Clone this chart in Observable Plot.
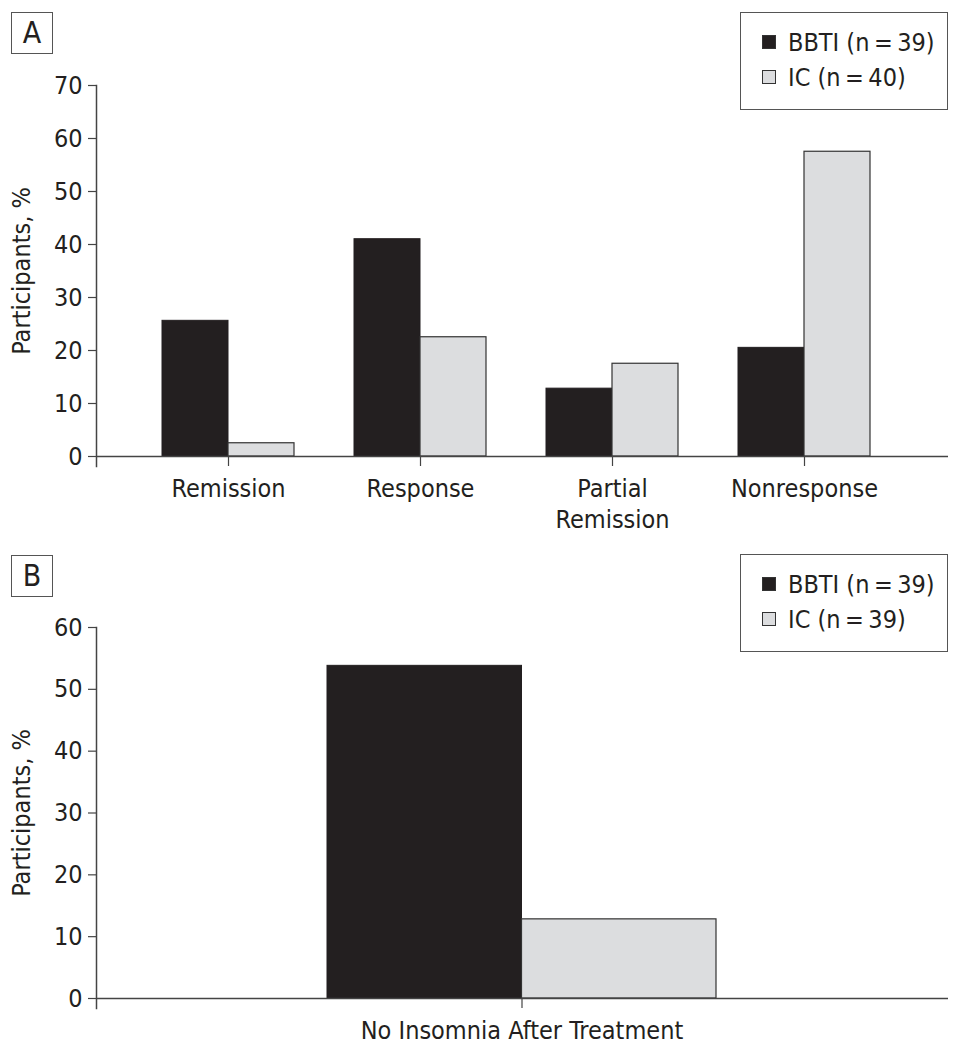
<!DOCTYPE html>
<html><head><meta charset="utf-8">
<script src="https://cdn.jsdelivr.net/npm/d3@7"></script>
<script src="https://cdn.jsdelivr.net/npm/@observablehq/plot@0.6"></script>
<style>
body{margin:0;background:#fff}
#wrap{position:relative;width:960px;height:1050px;font-family:"Liberation Sans Narrow","DejaVu Sans Condensed","Roboto Condensed","Liberation Sans",sans-serif;color:#231f20;overflow:hidden}
.panel{position:absolute;left:0;width:960px}
.letter{position:absolute;left:11px;width:42px;height:42px;border:1.5px solid #555;box-sizing:border-box;font-size:30px;text-align:center;line-height:40px}
.legend{position:absolute;left:740px;width:208px;height:98px;border:1.5px solid #555;box-sizing:border-box;font-size:25px}
.item{position:absolute;left:21px;height:30px;line-height:30px;white-space:nowrap}
.sw{display:inline-block;width:14px;height:14px;border:1px solid #333;box-sizing:border-box;margin-right:12px;vertical-align:middle;position:relative;top:-2px}
</style></head>
<body><div id="wrap"></div>
<script>
// ---- data ----
const seriesNamesA = ["BBTI (n\u2009=\u200939)", "IC (n\u2009=\u200940)"];
const seriesNamesB = ["BBTI (n\u2009=\u200939)", "IC (n\u2009=\u200939)"];
const seriesColors = ["#231f20", "#dcdddf"];
const categoriesA = ["Remission", "Response", "Partial Remission", "Nonresponse"];
const tickLabelsA = ["Remission", "Response", "Partial\nRemission", "Nonresponse"];
const bbtiA = [25.6, 41.0, 12.8, 20.5];
const icA = [2.5, 22.5, 17.5, 57.5];
const yTicksA = [0, 10, 20, 30, 40, 50, 60, 70];

const categoriesB = ["No Insomnia After Treatment"];
const tickLabelsB = ["No Insomnia After Treatment"];
const bbtiB = [53.8];
const icB = [12.8];
const yTicksB = [0, 10, 20, 30, 40, 50, 60];

const yLabel = "Participants, %";
const FONT = '"Liberation Sans Narrow","DejaVu Sans Condensed","Roboto Condensed","Liberation Sans",sans-serif';
const AX = "#444";

function makePanel({cats, labels, bbti, ic, ticks, ymax, height, mt, mb, xrange, padIn, half}) {
  const rows = cats.map((c, i) => ({cat: c, bbti: bbti[i], ic: ic[i]}));
  const lab = new Map(cats.map((c, i) => [c, labels[i]]));
  return Plot.plot({
    width: 960, height, marginTop: mt, marginBottom: mb, marginLeft: 96, marginRight: 12,
    style: {fontFamily: FONT, fontSize: "25px", color: "#231f20", background: "white"},
    x: {domain: cats, range: xrange, paddingInner: padIn, paddingOuter: 0, label: null},
    y: {domain: [0, ymax], label: null},
    marks: [
      Plot.barY(rows, {x: "cat", y: "bbti", fill: seriesColors[0], stroke: "#231f20", strokeWidth: 1, insetRight: half}),
      Plot.barY(rows, {x: "cat", y: "ic", fill: seriesColors[1], stroke: "#333", strokeWidth: 1.2, insetLeft: half}),
      Plot.ruleY([0], {stroke: AX, strokeWidth: 1.5}),
      Plot.frame({anchor: "left", stroke: AX, strokeWidth: 1.5, insetBottom: -10}),
      Plot.axisY({ticks, tickSize: 8, tickPadding: 6, stroke: AX, strokeWidth: 1.2, label: yLabel, labelAnchor: "center", labelArrow: "none", labelOffset: 84, fontSize: 25}),
      Plot.axisX({tickSize: 10, tickPadding: 8, stroke: AX, strokeWidth: 1.2, tickFormat: d => lab.get(d), lineHeight: 1.25, label: null, fontSize: 25})
    ]
  });
}

const wrap = document.getElementById("wrap");

function addPanel(top, svg, letter, letterTop, legendTop, names) {
  const p = document.createElement("div");
  p.className = "panel"; p.style.top = top + "px";
  p.appendChild(svg);
  wrap.appendChild(p);
  const L = document.createElement("div");
  L.className = "letter"; L.style.top = letterTop + "px"; L.textContent = letter;
  wrap.appendChild(L);
  const g = document.createElement("div");
  g.className = "legend"; g.style.top = legendTop + "px";
  names.forEach((n, i) => {
    const it = document.createElement("div");
    it.className = "item"; it.style.top = (15 + i * 35) + "px";
    const sw = document.createElement("span");
    sw.className = "sw"; sw.style.background = seriesColors[i];
    it.appendChild(sw);
    it.appendChild(document.createTextNode(n));
    g.appendChild(it);
  });
  wrap.appendChild(g);
}

const svgA = makePanel({cats: categoriesA, labels: tickLabelsA, bbti: bbtiA, ic: icA, ticks: yTicksA, ymax: 70,
  height: 540, mt: 85, mb: 84, xrange: [162, 870], padIn: 0.3125, half: 66});
addPanel(0, svgA, "A", 12, 12, seriesNamesA);

const svgB = makePanel({cats: categoriesB, labels: tickLabelsB, bbti: bbtiB, ic: icB, ticks: yTicksB, ymax: 60,
  height: 510, mt: 87, mb: 52, xrange: [327, 716], padIn: 0, half: 194.5});
addPanel(540, svgB, "B", 555, 554, seriesNamesB);
</script>
</body></html>
